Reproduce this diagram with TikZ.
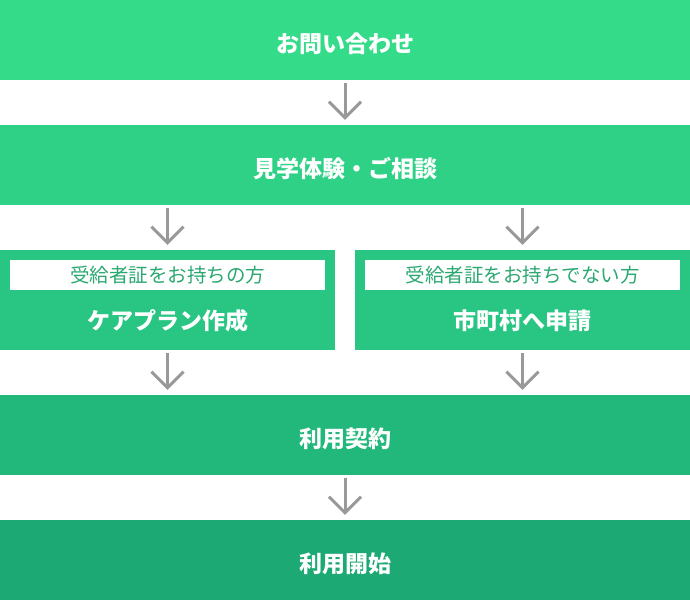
\documentclass[tikz,border=0pt]{standalone}
\usepackage{fontspec}
\setmainfont{Noto Sans CJK JP}
\usetikzlibrary{arrows.meta,positioning}
\definecolor{stepA}{HTML}{34DC89}
\definecolor{stepB}{HTML}{2FD186}
\definecolor{stepC}{HTML}{29C683}
\definecolor{stepD}{HTML}{22B87B}
\definecolor{stepE}{HTML}{1CA974}
\definecolor{tagText}{HTML}{2AA870}
\definecolor{arrowGray}{HTML}{999999}

\begin{document}
\begin{tikzpicture}[x=1pt,y=-1pt,
  stage/.style={rectangle,minimum width=690pt,minimum height=80pt,inner sep=0pt,
    text=white,font=\bfseries\fontsize{23}{23}\selectfont},
  half/.style={rectangle,minimum width=335pt,minimum height=100pt,inner sep=0pt,fill=stepC},
  tag/.style={rectangle,fill=white,minimum width=315pt,minimum height=30pt,inner sep=0pt,
    text=tagText,font=\fontsize{19.5}{19.5}\selectfont},
  title/.style={inner sep=0pt,text=white,font=\bfseries\fontsize{23}{23}\selectfont},
  flow/.style={draw=arrowGray,line width=3pt,
    -{Straight Barb[length=16pt,width=32pt,line width=3pt]},shorten >=5pt,shorten <=3pt}]
  \useasboundingbox (0,0) rectangle (690,600);
  \node[stage,fill=stepA] (ask) at (345,40) {};
  \node[title] (askName) at (345,44) {お問い合わせ};
  \node[stage,fill=stepB] (visit) at (345,165) {};
  \node[title] (visitName) at (345,169) {見学体験・ご相談};
  \node[half] (plan) at (167.5,300) {};
  \node[half] (apply) at (522.5,300) {};
  \node[tag] (planTag) at (167.5,275) {受給者証をお持ちの方};
  \node[tag] (applyTag) at (522.5,275) {受給者証をお持ちでない方};
  \node[title] (planName) at (167.5,321) {ケアプラン作成};
  \node[title] (applyName) at (522.5,321) {市町村へ申請};
  \node[stage,fill=stepD] (contract) at (345,435) {};
  \node[title] (contractName) at (345,439) {利用契約};
  \node[stage,fill=stepE] (start) at (345,560) {};
  \node[title] (startName) at (345,564) {利用開始};
  \draw[flow] (ask) -- (visit);
  \draw[flow] (visit.south -| plan.north) -- (plan);
  \draw[flow] (visit.south -| apply.north) -- (apply);
  \draw[flow] (plan) -- (plan |- contract.north);
  \draw[flow] (apply) -- (apply |- contract.north);
  \draw[flow] (contract) -- (start);
\end{tikzpicture}
\end{document}
